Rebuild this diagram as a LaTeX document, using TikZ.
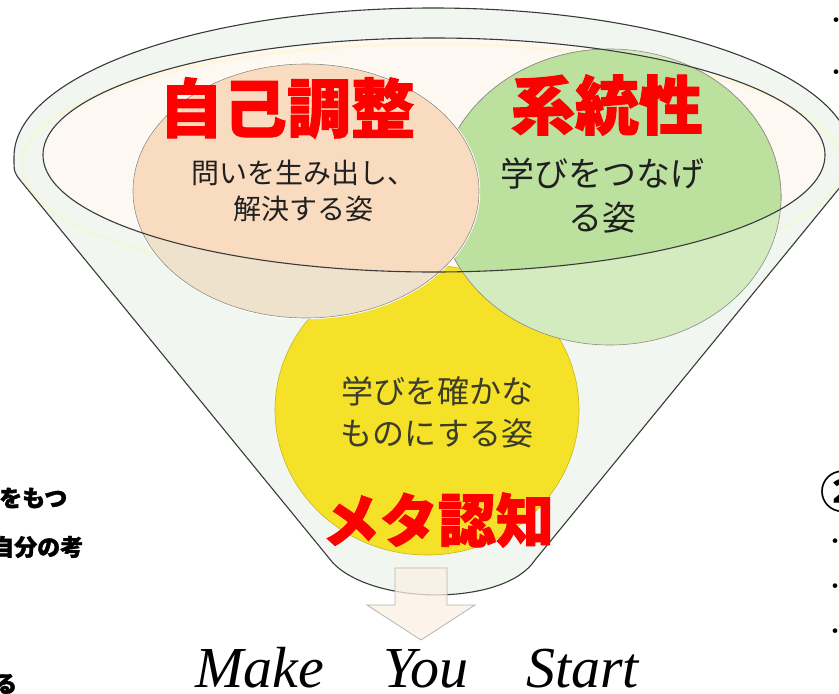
\documentclass[tikz,border=0pt]{standalone}
\usepackage{fontspec}
\newfontfamily\jp{Noto Sans CJK JP}
\newfontfamily\jpheavy[BoldFeatures={FakeBold=1.6}]{Noto Sans CJK JP}
\newfontfamily\serifit{Liberation Serif}
\definecolor{rimfill}{HTML}{F1F6F0}
\definecolor{innerfill}{HTML}{FEF8F2}
\definecolor{rimline}{HTML}{3A3A3A}
\definecolor{orS}{HTML}{F9DCC0}
\definecolor{orL}{HTML}{EEE2CC}
\definecolor{grS}{HTML}{BCE09E}
\definecolor{grL}{HTML}{D3EBBF}
\definecolor{yel}{HTML}{F5E228}
\definecolor{yelline}{HTML}{C9B61E}
\definecolor{circline}{HTML}{8C8C84}
\definecolor{redt}{HTML}{FF0000}
\definecolor{arrowfill}{HTML}{FBF1E3}
\definecolor{arrowline}{HTML}{B5B5AD}
\definecolor{desctext}{HTML}{202020}
\definecolor{metatext}{HTML}{3C3C28}
\tikzset{
  outline/.style={draw=rimline, line width=1.1pt},
  circedge/.style={draw=circline, line width=0.6pt},
  title/.style={text=redt, font=\jpheavy\bfseries\fontsize{64}{70}\selectfont, inner sep=0pt},
  desc/.style={align=center, inner sep=0pt, text=desctext},
  margintext/.style={font=\jpheavy\bfseries\fontsize{23}{26}\selectfont, inner sep=0pt, anchor=west},
  bulletmark/.style={font=\jp\fontsize{22}{24}\selectfont, inner sep=0pt},
  slogan/.style={font=\serifit\itshape\fontsize{58}{60}\selectfont, inner sep=0pt, anchor=base west, text depth=0pt},
  arrowbox/.style={fill=arrowfill, fill opacity=0.75, draw=arrowline, line width=0.8pt}
}
\begin{document}
\begin{tikzpicture}[x=1pt,y=-1pt]
\useasboundingbox (0,0) rectangle (839,694);
\clip (0,0) rectangle (839,694);
\fill[white] (0,0) rectangle (839,694);
% funnel body
\path[fill=rimfill] (333,563) -- (20,180) .. controls (14,172) .. (14,157)
  arc[start angle=180,end angle=0,x radius=419pt,y radius=149pt]
  .. controls (852,170) .. (846,180) -- (535,560)
  .. controls (505,606) and (375,606) .. (333,563) -- cycle;
% inner opening
\fill[innerfill] (434,155) ellipse[x radius=391pt, y radius=117pt];
\draw[yellow!60!white, line width=3pt, opacity=0.15] (432,165) ellipse[x radius=410pt, y radius=121pt];
% yellow circle
\path[fill=yel, draw=yelline, line width=0.6pt] (427,410) ellipse[x radius=152pt, y radius=145pt];
% green and orange (lighter outside the opening)
\path[fill=grL, circedge] (610,197) ellipse[x radius=171pt, y radius=148pt];
\draw[white, line width=2.5pt] (306,191) ellipse[x radius=173pt, y radius=127pt];
\path[fill=orL, circedge] (306,191) ellipse[x radius=173pt, y radius=127pt];
\begin{scope}
  \clip (434,155) ellipse[x radius=391pt, y radius=117pt];
  \path[fill=grS, circedge] (610,197) ellipse[x radius=171pt, y radius=148pt];
  \draw[white, line width=2.5pt] (306,191) ellipse[x radius=173pt, y radius=127pt];
  \path[fill=orS, circedge] (306,191) ellipse[x radius=173pt, y radius=127pt];
\end{scope}
% outlines
\draw[outline] (434,155) ellipse[x radius=391pt, y radius=117pt];
\draw[outline] (333,563) -- (20,180) .. controls (14,172) .. (14,157)
  arc[start angle=180,end angle=0,x radius=419pt,y radius=149pt]
  .. controls (852,170) .. (846,180) -- (535,560)
  .. controls (505,606) and (375,606) .. (333,563) -- cycle;
% arrow
\path[arrowbox] (395,568) -- (447,568) -- (447,605) -- (475,605) -- (421,640) -- (367,605) -- (395,605) -- cycle;
% titles
\node[title] (t1) at (287,108) {自己調整};
\node[title] (t2) at (607,105) {系統性};
\node[title, font=\jpheavy\bfseries\fontsize{58}{64}\selectfont] (t3) at (438,520) {メタ認知};
% descriptions
\node[desc, font=\jp\fontsize{28}{36}\selectfont] (d1) at (303,191) {問いを生み出し、\\解決する姿};
\node[desc, font=\jp\fontsize{34}{44}\selectfont] (d2) at (602,196) {学びをつなげ\\る姿};
\node[desc, text=metatext, font=\jp\fontsize{32}{42}\selectfont] (d3) at (437,412) {学びを確かな\\ものにする姿};
% slogan
\node[slogan] (s1) at (195,687) {Make};
\node[slogan] (s2) at (383,687) {You};
\node[slogan] (s3) at (526,687) {Start};
% cut-off margin texts
\node[margintext] (m1) at (-1,498) {をもつ};
\node[margintext] (m2) at (-9,547) {自分の考};
\node[margintext] (m3) at (-6,684) {る};
\node[bulletmark] (b1) at (836,23) {・};
\node[bulletmark] (b2) at (836,75) {・};
\node[bulletmark] (b3) at (835,544) {・};
\node[bulletmark] (b4) at (835,589) {・};
\node[bulletmark] (b5) at (835,634) {・};
\node[inner sep=0pt, font=\jp\bfseries\fontsize{44}{48}\selectfont] (c2) at (842,492) {②};
\end{tikzpicture}
\end{document}
